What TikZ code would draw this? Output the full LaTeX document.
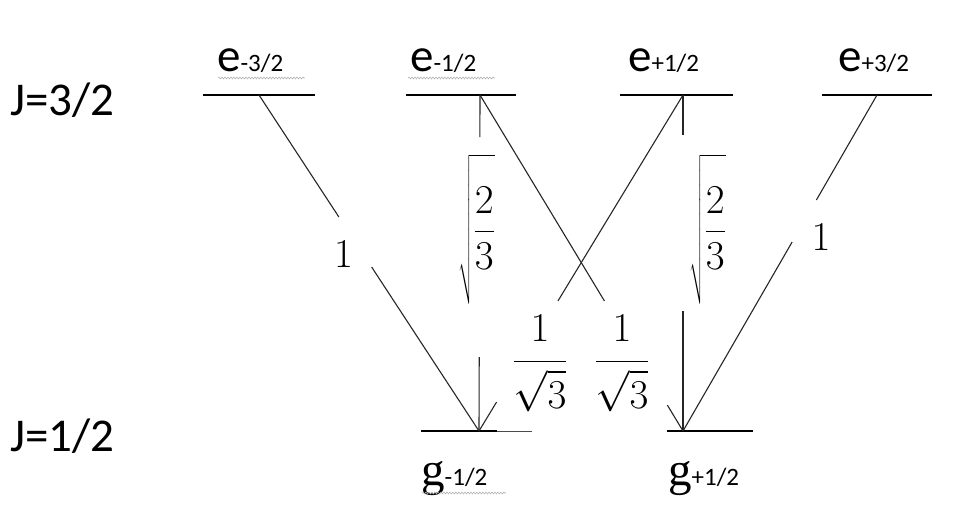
\RequirePackage{fix-cm}
\documentclass[tikz,border=0pt]{standalone}
\usepackage{graphicx}
\usepackage{exscale}
\usepackage{fontspec}
\setmainfont{Carlito}
\newfontfamily\gfont{Liberation Serif}
\usetikzlibrary{decorations.pathmorphing}
\tikzset{
  levelline/.style={line width=2.6pt, black},
  thinext/.style={line width=0.9pt, black!70},
  trans/.style={line width=1.1pt, black!85},
  bigtxt/.style={font=\fontsize{47}{56}\selectfont, inner sep=0pt},
  mathlbl/.style={font=\fontsize{41}{50}\selectfont, inner sep=0pt},
  squig/.style={gray!60, line width=0.6pt, decorate, decoration={snake, amplitude=0.9pt, segment length=3pt}}
}
\newcommand{\sub}[1]{{\fontsize{25}{30}\selectfont #1}}
\newcommand{\bigroot}{\scalebox{0.6}[1]{\fontsize{48}{56}\selectfont$\displaystyle\sqrt{\scalebox{1.6667}[1]{\fontsize{41}{50}\selectfont$\displaystyle\frac{2}{3}$}\rule[-60pt]{0pt}{136pt}}$}}
\newcommand{\invroot}{$\displaystyle\frac{1\rule[-16pt]{0pt}{16pt}}{\raisebox{-9pt}{$\displaystyle\sqrt{3}$}}$}
\begin{document}
\begin{tikzpicture}[x=1pt,y=-1pt]
\useasboundingbox (0,0) rectangle (960,522);
% level end points and transition vertices
\coordinate (l1a) at (203,95);  \coordinate (l1b) at (315,95);  \coordinate (ea) at (259,95);
\coordinate (l2a) at (406,95);  \coordinate (l2b) at (516,95);  \coordinate (eb) at (480,95);
\coordinate (l3a) at (620,95);  \coordinate (l3b) at (733,95);  \coordinate (ec) at (683,95);
\coordinate (l4a) at (822,95);  \coordinate (l4b) at (932,95);  \coordinate (ed) at (877,95);
\coordinate (g1a) at (421,431); \coordinate (g1b) at (497,431); \coordinate (g1c) at (532,431); \coordinate (gm) at (479,431);
\coordinate (g2a) at (667,431); \coordinate (g2b) at (753,431); \coordinate (gp) at (683,431);
% levels
\draw[levelline] (l1a) -- (l1b);
\draw[levelline] (l2a) -- (l2b);
\draw[levelline] (l3a) -- (l3b);
\draw[levelline] (l4a) -- (l4b);
\draw[levelline] (g1a) -- (g1b);
\draw[thinext] (g1b) -- (g1c);
\draw[levelline] (g2a) -- (g2b);
% transitions (broken where labels sit)
\path (ea) -- (gm) coordinate[pos=0.363] (t1a) coordinate[pos=0.512] (t1b);
\draw[trans] (ea) -- (t1a) (t1b) -- (gm);
\path (eb) -- (gm) coordinate[pos=0.125] (t2a) coordinate[pos=0.780] (t2b);
\draw[trans] (eb) -- (t2a) (t2b) -- (gm);
\path (eb) -- (gp) coordinate[pos=0.613] (t3a) coordinate[pos=0.923] (t3b);
\draw[trans] (eb) -- (t3a) (t3b) -- (gp);
\path (ec) -- (gm) coordinate[pos=0.613] (t4a) coordinate[pos=0.914] (t4b);
\draw[trans] (ec) -- (t4a) (t4b) -- (gm);
\path (ec) -- (gp) coordinate[pos=0.119] (t5a) coordinate[pos=0.643] (t5b);
\draw[trans] (ec) -- (t5a) (t5b) -- (gp);
\path (ed) -- (gp) coordinate[pos=0.3125] (t6a) coordinate[pos=0.4375] (t6b);
\draw[trans] (ed) -- (t6a) (t6b) -- (gp);
% J labels
\node[bigtxt, anchor=base west] (j1) at (10,115) {J=3/2};
\node[bigtxt, anchor=base west] (j2) at (10,451) {J=1/2};
% e labels
\node[bigtxt, anchor=base west] (n1) at (217,71) {e\sub{-3/2}};
\node[bigtxt, anchor=base west] (n2) at (410,71) {e\sub{-1/2}};
\node[bigtxt, anchor=base west] (n3) at (628,71) {e\sub{+1/2}};
\node[bigtxt, anchor=base west] (n4) at (838,71) {e\sub{+3/2}};
% g labels
\node[bigtxt, anchor=base west] (n5) at (421,485) {{\gfont g}\sub{-1/2}};
\node[bigtxt, anchor=base west] (n6) at (668,485) {{\gfont g}\sub{+1/2}};
% squiggles (spell-check marks)
\draw[squig] (218,78) -- (305,78);
\draw[squig] (408,78) -- (495,78);
\draw[squig] (422,493) -- (506,493);
% coefficient labels
\node[mathlbl] (c1) at (343.5,254) {$1$};
\node[mathlbl] (c2) at (821,237) {$1$};
\node[mathlbl, anchor=north] (c3) at (476.5,154) {\bigroot};
\node[mathlbl, anchor=north] (c4) at (707.5,154) {\bigroot};
\node[mathlbl, anchor=north] (c5) at (540,315) {\invroot};
\node[mathlbl, anchor=north] (c6) at (622,315) {\invroot};
\end{tikzpicture}
\end{document}
